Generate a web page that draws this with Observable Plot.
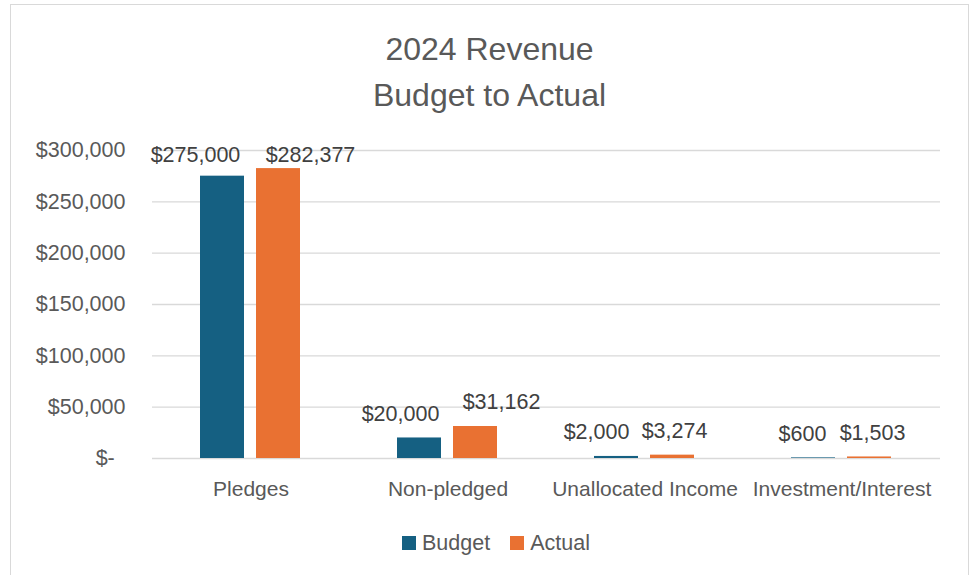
<!DOCTYPE html>
<html>
<head>
<meta charset="utf-8">
<script src="https://cdn.jsdelivr.net/npm/d3@7"></script>
<script src="https://cdn.jsdelivr.net/npm/@observablehq/plot@0.6"></script>
<style>
  body { margin: 0; background: #fff; }
  #wrap { position: relative; width: 974px; height: 575px; overflow: hidden; font-family: "Liberation Sans", Arial, sans-serif; background: #fff; }
  #frame { position: absolute; left: 10px; top: 4px; width: 959px; height: 640px; border: 1.5px solid #d9d9d9; box-sizing: border-box; }
  #title { position: absolute; left: 11px; width: 957px; top: 26px; text-align: center; color: #595959; font-size: 32px; line-height: 46px; }
  #chart { position: absolute; left: 0; top: 0; }
  #legend { position: absolute; left: 9px; width: 974px; top: 530px; height: 26px; display: flex; justify-content: center; align-items: center; color: #595959; font-size: 21.5px; }
  .item { display: flex; align-items: center; margin: 0 10px; }
  .sw { width: 14px; height: 14px; margin-right: 6px; }
</style>
</head>
<body>
<div id="wrap">
  <div id="frame"></div>
  <div id="chart"></div>
  <div id="title">2024 Revenue<br>Budget to Actual</div>
  <div id="legend"></div>
</div>
<script>
// ---- data ----
const categories = ["Pledges", "Non-pledged", "Unallocated Income", "Investment/Interest"];
const seriesNames = ["Budget", "Actual"];
const budget = [275000, 20000, 2000, 600];
const actual = [282377, 31162, 3274, 1503];
const yTicks = [0, 50000, 100000, 150000, 200000, 250000, 300000];

// ---- styling / layout ----
const colors = ["#156082", "#E97132"];
const labelNudge = [[-27, 32], [-19, 26], [-20, 2], [-11, 3]]; // horizontal label offsets (px) to avoid overlap

const rows = categories.flatMap((c, i) => [
  {category: c, series: "Budget", value: budget[i], nudge: labelNudge[i][0]},
  {category: c, series: "Actual", value: actual[i], nudge: labelNudge[i][1]}
]);

const fmtMoney = v => v === 0 ? "$-\u2002" : "$" + d3.format(",")(v);

const labelMarks = rows.map(r => Plot.text([r], {
  fx: "category",
  x: "series",
  y: d => Math.min(d.value, 272000),
  text: d => fmtMoney(d.value),
  dx: r.nudge,
  dy: -24,
  lineAnchor: "middle",
  fontSize: 21.5,
  fill: "#404040"
}));

const chart = Plot.plot({
  width: 974,
  height: 520,
  marginLeft: 150,
  marginRight: 33,
  marginTop: 150,
  marginBottom: 62,
  style: {fontFamily: '"Liberation Sans", Arial, sans-serif', background: "transparent", color: "#595959", overflow: "visible"},
  fx: {domain: categories, padding: 0, label: null},
  x: {domain: seriesNames, paddingInner: 0.21, paddingOuter: 0.85, axis: null},
  y: {domain: [0, 300000], label: null},
  color: {domain: seriesNames, range: colors},
  marks: [
    Plot.gridY(yTicks, {stroke: "#d9d9d9", strokeOpacity: 1, strokeWidth: 1.3}),
    Plot.axisY(yTicks, {tickSize: 0, tickPadding: 27, fontSize: 21.5, tickFormat: fmtMoney, label: null}),
    Plot.axisFx({anchor: "bottom", tickSize: 0, tickPadding: 23, fontSize: 21, label: null}),
    Plot.barY(rows, {fx: "category", x: "series", y: "value", fill: "series"}),
    ...labelMarks
  ]
});
document.getElementById("chart").appendChild(chart);

const legend = document.getElementById("legend");
seriesNames.forEach((s, i) => {
  const item = document.createElement("div");
  item.className = "item";
  const sw = document.createElement("div");
  sw.className = "sw";
  sw.style.background = colors[i];
  const t = document.createElement("span");
  t.textContent = s;
  item.appendChild(sw);
  item.appendChild(t);
  legend.appendChild(item);
});
</script>
</body>
</html>
